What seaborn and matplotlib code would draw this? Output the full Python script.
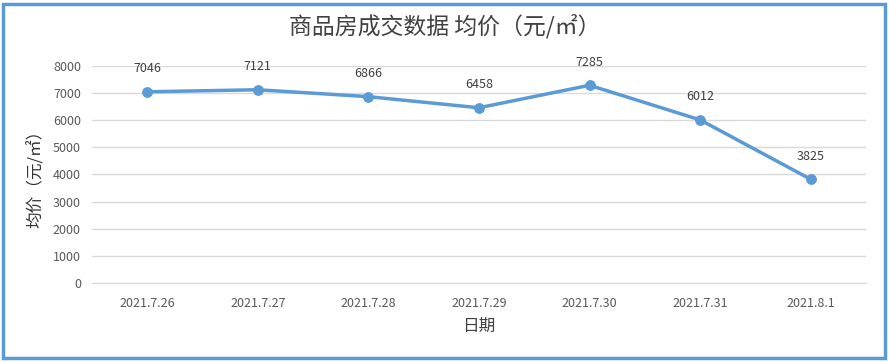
import matplotlib
matplotlib.use("Agg")
import matplotlib.pyplot as plt
import matplotlib.patches as patches
import seaborn as sns
import pandas as pd

dates = ["2021.7.26", "2021.7.27", "2021.7.28", "2021.7.29", "2021.7.30", "2021.7.31", "2021.8.1"]
prices = [7046, 7121, 6866, 6458, 7285, 6012, 3825]

sns.set_style("white")
plt.rcParams['font.family'] = ['Noto Sans CJK SC', 'DejaVu Sans']

df = pd.DataFrame({"日期": dates, "均价": prices})

fig = plt.figure(figsize=(8.89, 3.62), dpi=100)
ax = fig.add_axes([0.1035, 0.218, 0.8705, 0.6])

line_color = "#5B9BD5"
sns.lineplot(data=df, x="日期", y="均价", ax=ax, color=line_color, linewidth=2.5,
             marker="o", markersize=7, markeredgecolor=line_color, sort=False)

for i, v in enumerate(prices):
    ax.annotate(str(v), (i, v), xytext=(0, 12), textcoords="offset points",
                ha="center", va="bottom", fontsize=9, color="#404040")

ax.set_xlim(-0.5, len(dates) - 0.5)
ax.set_ylim(0, 8000)
ax.set_yticks(range(0, 8001, 1000))
ax.yaxis.grid(True, color="#D9D9D9", linewidth=1)
ax.xaxis.grid(False)
for s in ["top", "right", "left"]:
    ax.spines[s].set_visible(False)
ax.spines["bottom"].set_color("#D9D9D9")
ax.tick_params(axis="both", length=0, labelsize=9, labelcolor="#595959", pad=8)
ax.tick_params(axis="x", pad=10)

ax.set_xlabel("日期", fontsize=12, color="#404040", labelpad=6)
ax.set_ylabel("均价（元/㎡）", fontsize=12, color="#333333", labelpad=6)
fig.suptitle("商品房成交数据 均价（元/㎡）", fontsize=16.5, color="#404040", y=0.96)

fig.patches.append(patches.Rectangle((0.003, 0.012), 0.992, 0.978, transform=fig.transFigure,
                                     fill=False, edgecolor="#5B9BD5", linewidth=2.5))

fig.savefig("out.png", dpi=100)
